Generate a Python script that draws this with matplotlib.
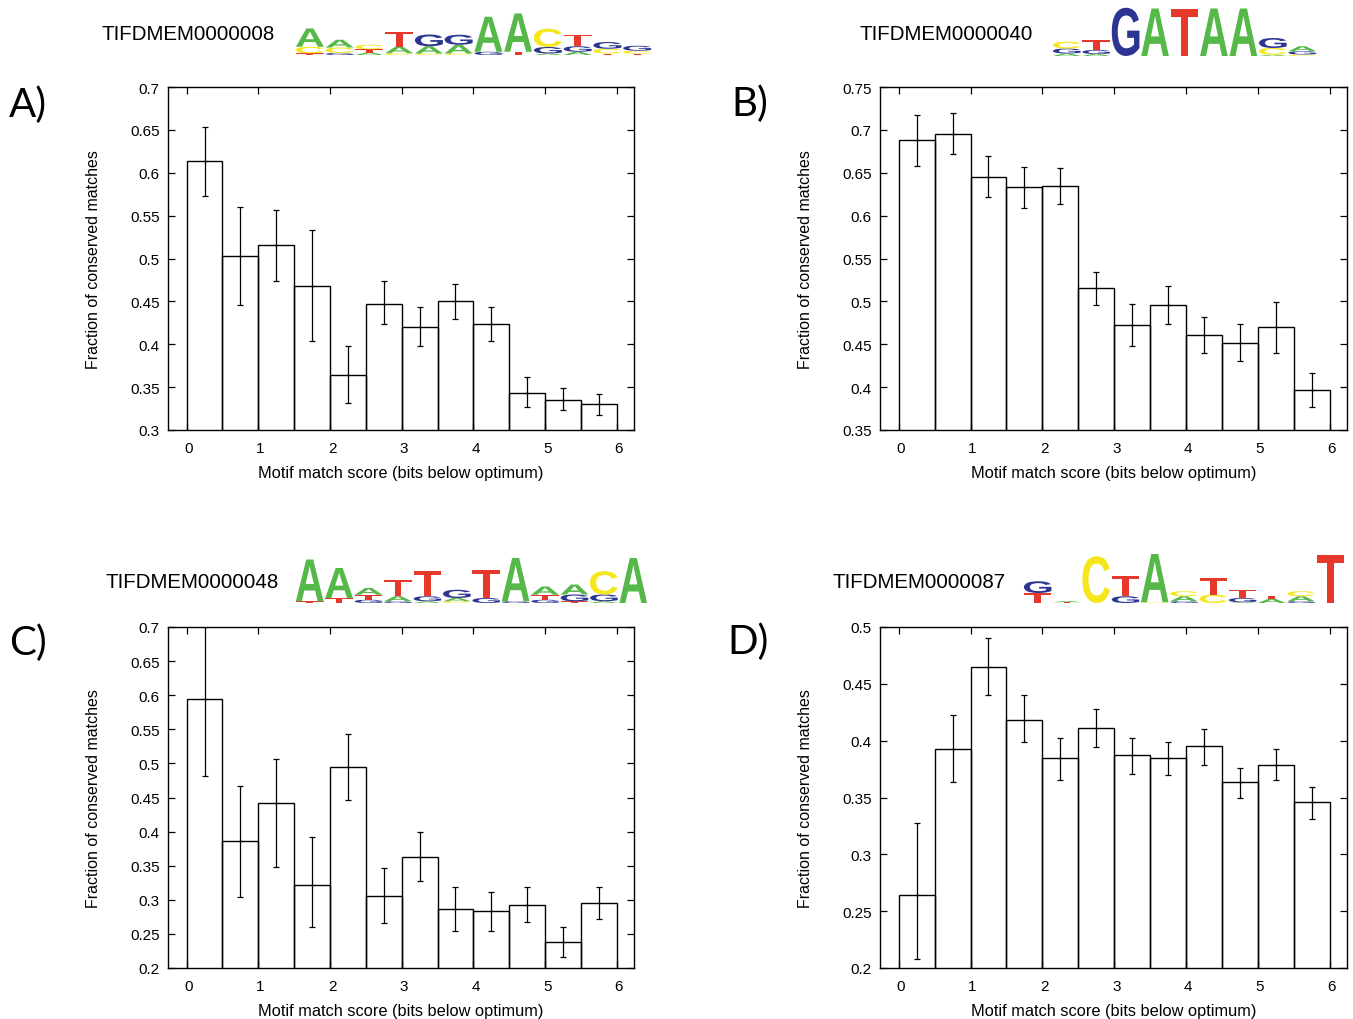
import matplotlib
matplotlib.use("Agg")
import matplotlib.pyplot as plt
from matplotlib.textpath import TextPath
from matplotlib.patches import PathPatch
from matplotlib.font_manager import FontProperties
from matplotlib.transforms import Affine2D, ScaledTranslation
import numpy as np

# --- DATA ---
bin_left = [0.0, 0.5, 1.0, 1.5, 2.0, 2.5, 3.0, 3.5, 4.0, 4.5, 5.0, 5.5]

motif_ids = ["TIFDMEM0000008", "TIFDMEM0000040", "TIFDMEM0000048", "TIFDMEM0000087"]
panel_tags = ["A)", "B)", "C)", "D)"]

frac_a = [0.614, 0.503, 0.516, 0.468, 0.364, 0.447, 0.420, 0.450, 0.424, 0.343, 0.335, 0.330]
low_a = [0.573, 0.446, 0.474, 0.404, 0.331, 0.424, 0.398, 0.430, 0.404, 0.327, 0.323, 0.317]
high_a = [0.653, 0.560, 0.557, 0.533, 0.398, 0.474, 0.443, 0.470, 0.443, 0.362, 0.349, 0.342]

frac_b = [0.688, 0.695, 0.645, 0.633, 0.635, 0.516, 0.472, 0.496, 0.461, 0.451, 0.470, 0.397]
low_b = [0.658, 0.672, 0.622, 0.609, 0.614, 0.496, 0.448, 0.474, 0.440, 0.430, 0.440, 0.377]
high_b = [0.717, 0.720, 0.670, 0.657, 0.656, 0.534, 0.497, 0.518, 0.482, 0.474, 0.499, 0.416]

frac_c = [0.594, 0.386, 0.442, 0.322, 0.495, 0.306, 0.363, 0.287, 0.284, 0.293, 0.238, 0.296]
low_c = [0.482, 0.304, 0.348, 0.260, 0.446, 0.266, 0.328, 0.254, 0.254, 0.268, 0.216, 0.272]
high_c = [0.700, 0.467, 0.506, 0.392, 0.543, 0.347, 0.400, 0.319, 0.311, 0.319, 0.260, 0.319]

frac_d = [0.264, 0.393, 0.465, 0.418, 0.385, 0.411, 0.387, 0.385, 0.395, 0.364, 0.379, 0.346]
low_d = [0.208, 0.364, 0.440, 0.399, 0.365, 0.394, 0.371, 0.370, 0.379, 0.350, 0.365, 0.331]
high_d = [0.328, 0.423, 0.490, 0.440, 0.402, 0.428, 0.402, 0.399, 0.410, 0.376, 0.393, 0.359]

y_ranges = [(0.3, 0.7), (0.35, 0.75), (0.2, 0.7), (0.2, 0.5)]
y_ticks = [
    [0.3, 0.35, 0.4, 0.45, 0.5, 0.55, 0.6, 0.65, 0.7],
    [0.35, 0.4, 0.45, 0.5, 0.55, 0.6, 0.65, 0.7, 0.75],
    [0.2, 0.25, 0.3, 0.35, 0.4, 0.45, 0.5, 0.55, 0.6, 0.65, 0.7],
    [0.2, 0.25, 0.3, 0.35, 0.4, 0.45, 0.5],
]

# sequence logos: per position, letters bottom -> top with height in bits
logo_a = [
    [("T", 0.07), ("C", 0.26), ("A", 0.73)],
    [("G", 0.08), ("C", 0.22), ("A", 0.31)],
    [("A", 0.1), ("T", 0.13), ("C", 0.18)],
    [("C", 0.07), ("A", 0.27), ("T", 0.6)],
    [("C", 0.06), ("A", 0.29), ("G", 0.47)],
    [("C", 0.06), ("A", 0.35), ("G", 0.4)],
    [("G", 0.13), ("A", 1.4)],
    [("T", 0.13), ("A", 1.53)],
    [("A", 0.06), ("G", 0.26), ("C", 0.73)],
    [("A", 0.13), ("G", 0.22), ("T", 0.47)],
    [("T", 0.06), ("C", 0.19), ("G", 0.27)],
    [("T", 0.05), ("C", 0.12), ("G", 0.2)],
]
logo_b = [
    [("A", 0.1), ("G", 0.2), ("C", 0.27)],
    [("A", 0.08), ("G", 0.16), ("T", 0.4)],
    [("G", 1.93)],
    [("A", 1.9)],
    [("T", 1.87)],
    [("A", 1.9)],
    [("A", 1.9)],
    [("A", 0.05), ("C", 0.27), ("G", 0.4)],
    [("C", 0.06), ("G", 0.13), ("A", 0.2)],
]
logo_c = [
    [("T", 0.07), ("A", 1.67)],
    [("T", 0.2), ("A", 1.2)],
    [("G", 0.13), ("T", 0.2), ("A", 0.27)],
    [("G", 0.07), ("A", 0.2), ("T", 0.67)],
    [("A", 0.07), ("G", 0.2), ("T", 1.0)],
    [("C", 0.07), ("A", 0.13), ("G", 0.33)],
    [("G", 0.2), ("T", 1.13)],
    [("G", 0.07), ("A", 1.73)],
    [("G", 0.13), ("T", 0.2), ("A", 0.33)],
    [("T", 0.07), ("G", 0.27), ("A", 0.4)],
    [("A", 0.07), ("G", 0.27), ("C", 0.93)],
    [("A", 1.8)],
]
logo_d = [
    [("T", 0.4), ("G", 0.47)],
    [("T", 0.03), ("A", 0.05)],
    [("C", 1.87)],
    [("G", 0.27), ("T", 0.8)],
    [("C", 0.03), ("A", 1.93)],
    [("G", 0.07), ("A", 0.2), ("C", 0.2)],
    [("C", 0.33), ("T", 0.67)],
    [("A", 0.03), ("G", 0.17), ("T", 0.33)],
    [("A", 0.17), ("T", 0.13)],
    [("G", 0.07), ("A", 0.2), ("C", 0.2)],
    [("T", 1.93)],
]

# --- STYLE ---
W, H = 1353, 1020
BASE_COLORS = {"A": "#56b848", "C": "#f5e71c", "G": "#2c3592", "T": "#e6392b"}
TICK_FONT = "Liberation Sans"
TAG_FONT = "Lato"

# axes boxes in pixels: left, top, right, bottom
axes_px = [(168, 88, 634, 431), (880, 88, 1347, 431),
           (168, 628, 634, 969), (880, 628, 1347, 969)]
# logo boxes in pixels: left, right, baseline
logo_px = [(295, 652, 56), (1052, 1317, 57), (295, 648, 604), (1023, 1345, 604)]
LOGO_H = 50  # px for 2 bits
title_px = [(102, 35), (860, 35), (105, 583), (832, 583)]
tag_px = [(9, 105), (731, 104), (9, 643), (727, 642)]

fig = plt.figure(figsize=(W / 100, H / 100), dpi=100)

letter_prop = FontProperties(family="Liberation Sans", weight="bold")
label_shift = ScaledTranslation(2 / 100, 0, fig.dpi_scale_trans)


def draw_letter(ax, letter, x, y, w, h):
    tp = TextPath((0, 0), letter, size=1, prop=letter_prop)
    ext = tp.get_extents()
    tr = (Affine2D().translate(-ext.x0, -ext.y0)
          .scale(w / ext.width, h / ext.height).translate(x, y))
    ax.add_patch(PathPatch(tr.transform_path(tp), facecolor=BASE_COLORS[letter],
                           edgecolor="none"))


def draw_logo(box, stacks):
    x0, x1, base = box
    lax = fig.add_axes([x0 / W, 1 - base / H, (x1 - x0) / W, LOGO_H / H])
    lax.set_xlim(0, len(stacks))
    lax.set_ylim(0, 2)
    lax.axis("off")
    for i, stack in enumerate(stacks):
        y = 0
        for letter, h in stack:
            draw_letter(lax, letter, i + 0.03, y, 0.94, h)
            y += h


fracs = [frac_a, frac_b, frac_c, frac_d]
lows = [low_a, low_b, low_c, low_d]
highs = [high_a, high_b, high_c, high_d]
logos = [logo_a, logo_b, logo_c, logo_d]

for k in range(4):
    l, t, r, b = axes_px[k]
    ax = fig.add_axes([l / W, 1 - b / H, (r - l) / W, (b - t) / H])
    y = np.array(fracs[k])
    lo = np.array(lows[k])
    hi = np.array(highs[k])
    x = np.array(bin_left)
    ax.bar(x, y, width=0.5, align="edge", fill=False, edgecolor="black", linewidth=1.0)
    ax.errorbar(x + 0.25, y, yerr=[y - lo, hi - y], fmt="none", ecolor="black",
                elinewidth=0.9, capsize=2.5, capthick=0.9)
    ax.plot(x + 0.25, y, "+", color="black", markersize=3, markeredgewidth=0.8)
    ax.set_xlim(-0.26, 6.24)
    ax.set_ylim(*y_ranges[k])
    ax.set_xticks(range(7))
    ax.set_yticks(y_ticks[k])
    ax.set_yticklabels([f"{v:g}" for v in y_ticks[k]])
    ax.tick_params(direction="in", top=True, right=True, length=5, width=0.9,
                   labelsize=11)
    ax.tick_params(axis="x", pad=8)
    ax.tick_params(axis="y", pad=6)
    for lab in ax.get_xticklabels():
        lab.set_family(TICK_FONT)
        lab.set_transform(lab.get_transform() + label_shift)
    for lab in ax.get_yticklabels():
        lab.set_family(TICK_FONT)
    for s in ax.spines.values():
        s.set_linewidth(1.0)
    ax.set_ylabel("Fraction of conserved matches", fontsize=11.5, family=TICK_FONT,
                  labelpad=21)
    ax.set_xlabel("Motif match score (bits below optimum)", fontsize=11.75,
                  family=TICK_FONT, labelpad=7)

    draw_logo(logo_px[k], logos[k])
    tx, ty = title_px[k]
    fig.text(tx / W, 1 - ty / H, motif_ids[k], fontsize=14.8, family=TICK_FONT,
             ha="left", va="center")
    gx, gy = tag_px[k]
    fig.text(gx / W, 1 - gy / H, panel_tags[k], fontsize=29, family=TAG_FONT,
             ha="left", va="center")

fig.savefig("out.png", dpi=100)
